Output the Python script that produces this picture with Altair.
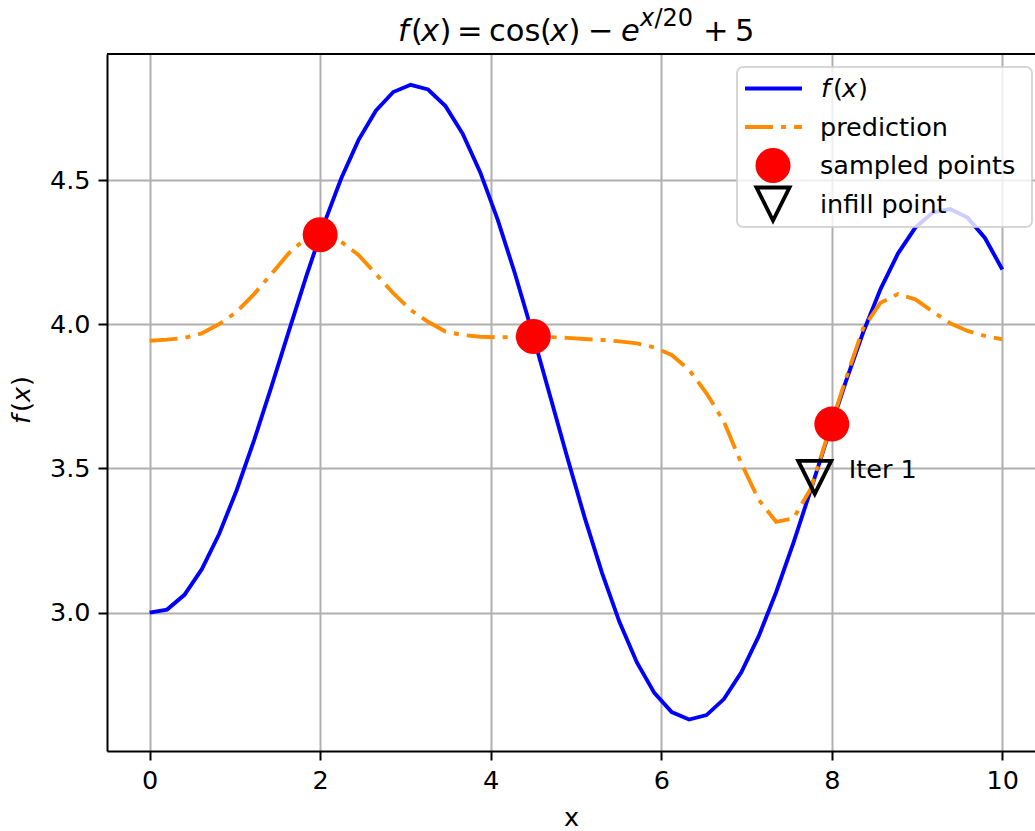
import altair as alt
import pandas as pd

FONT = "DejaVu Sans"

# sample positions shared by the true function and the surrogate prediction
x_grid = [0.0, 0.2041, 0.4082, 0.6122, 0.8163, 1.0204, 1.2245, 1.4286, 1.6327, 1.8367,
          2.0408, 2.2449, 2.449, 2.6531, 2.8571, 3.0612, 3.2653, 3.4694, 3.6735, 3.8776,
          4.0816, 4.2857, 4.4898, 4.6939, 4.898, 5.102, 5.3061, 5.5102, 5.7143, 5.9184,
          6.1224, 6.3265, 6.5306, 6.7347, 6.9388, 7.1429, 7.3469, 7.551, 7.7551, 7.9592,
          8.1633, 8.3673, 8.5714, 8.7755, 8.9796, 9.1837, 9.3878, 9.5918, 9.7959, 10.0]

f_true = [3.000, 3.0105, 3.0615, 3.1506, 3.2734, 3.4246, 3.5974, 3.7842, 3.9768, 4.1666,
          4.3455, 4.5054, 4.6393, 4.7412, 4.8062, 4.8314, 4.8150, 4.7573, 4.6602, 4.5272,
          4.3634, 4.1749, 3.9691, 3.7540, 3.5380, 3.3295, 3.1367, 2.9670, 2.8268, 2.7214,
          2.6547, 2.6289, 2.6443, 2.6998, 2.7926, 2.9181, 3.0705, 3.2429, 3.4276, 3.6162,
          3.8003, 3.9716, 4.1224, 4.2457, 4.3358, 4.3883, 4.3999, 4.3704, 4.2999, 4.1904]

f_pred = [3.943, 3.947, 3.953, 3.969, 4.001, 4.043, 4.105, 4.175, 4.247, 4.299,
          4.309, 4.287, 4.241, 4.175, 4.108, 4.050, 4.009, 3.975, 3.963, 3.957,
          3.955, 3.956, 3.957, 3.956, 3.953, 3.949, 3.946, 3.941, 3.934, 3.920,
          3.894, 3.842, 3.761, 3.662, 3.518, 3.391, 3.315, 3.327, 3.431, 3.622,
          3.810, 3.986, 4.075, 4.105, 4.087, 4.044, 4.004, 3.977, 3.960, 3.948]

sampled_x = [2.0, 4.5, 8.0]
sampled_f = [4.311, 3.958, 3.654]

infill_x = [7.8]
infill_f = [3.469]
infill_label = ["Iter 1"]

x_ticks = [0, 2, 4, 6, 8, 10]
y_ticks = [3.0, 3.5, 4.0, 4.5]

# plot-area geometry inside the 1035x831 page
LEFT, TOP = 107, 54
W, H = 928, 697
X_DOMAIN = [-0.5, 10.383]
Y_DOMAIN = [2.5197, 4.9381]

BLUE = "#0000ff"
ORANGE = "#ff8c00"
RED = "#ff0000"
DASHDOT = [28, 8, 5, 8]
LW = 3.9
TRI_DOWN = "M -1 -1 L 1 -1 L 0 1 Z"

xs = alt.Scale(domain=X_DOMAIN, nice=False, zero=False)
ys = alt.Scale(domain=Y_DOMAIN, nice=False, zero=False)

df_true = pd.DataFrame({"x": x_grid, "f": f_true})
df_pred = pd.DataFrame({"x": x_grid, "f": f_pred})
df_samp = pd.DataFrame({"x": sampled_x, "f": sampled_f})
df_inf = pd.DataFrame({"x": infill_x, "f": infill_f, "label": infill_label})

true_line = alt.Chart(df_true).mark_line(color=BLUE, strokeWidth=LW).encode(
    x=alt.X("x:Q", scale=xs,
            axis=alt.Axis(values=x_ticks, format="d", title="x", titleY=74,
                          titleBaseline="alphabetic", grid=True)),
    y=alt.Y("f:Q", scale=ys,
            axis=alt.Axis(values=y_ticks, format=".1f", title=None, grid=True)),
)

pred_line = alt.Chart(df_pred).mark_line(
    color=ORANGE, strokeWidth=LW, strokeDash=DASHDOT, strokeCap="butt"
).encode(x=alt.X("x:Q", scale=xs), y=alt.Y("f:Q", scale=ys))

samp_pts = alt.Chart(df_samp).mark_point(
    shape="circle", filled=True, color=RED, size=1225, opacity=1, strokeWidth=0
).encode(x=alt.X("x:Q", scale=xs), y=alt.Y("f:Q", scale=ys))

inf_pt = alt.Chart(df_inf).mark_point(
    shape=TRI_DOWN, filled=False, stroke="black", strokeWidth=LW, size=1089, opacity=1
).encode(x=alt.X("x:Q", scale=xs), y=alt.Y("f:Q", scale=ys))

inf_text = alt.Chart(df_inf).mark_text(
    align="left", baseline="alphabetic", dx=34, dy=1, font=FONT, fontSize=25.5, color="black"
).encode(x=alt.X("x:Q", scale=xs), y=alt.Y("f:Q", scale=ys), text="label:N")

# top spine (the right one falls outside the page)
top_spine = alt.Chart(pd.DataFrame({"k": [0]})).mark_rule(
    color="black", strokeWidth=2
).encode(x=alt.value(0), x2=alt.value(W), y=alt.value(0))


def piece(text, px, py, size, italic=False, angle=0):
    """A fragment of typeset text placed at page coordinates (px, py)."""
    return alt.Chart(pd.DataFrame({"t": [text]})).mark_text(
        align="left", baseline="alphabetic", font=FONT, fontSize=size,
        fontStyle="italic" if italic else "normal", angle=angle, color="black"
    ).encode(x=alt.value(px - LEFT), y=alt.value(py - TOP), text="t:N")


TS = 30.5   # title size
SS = 24     # superscript size
title_parts = [
    piece("f", 398, 41, TS, True),
    piece("(", 411, 41, TS),
    piece("x", 421, 41, TS, True),
    piece(")", 439.5, 41, TS),
    piece("=", 457, 41, TS),
    piece("cos", 489, 41, TS),
    piece("(", 540, 41, TS),
    piece("x", 550, 41, TS, True),
    piece(")", 568.5, 41, TS),
    piece("\u2212", 588, 41, TS),
    piece("e", 621, 41, TS, True),
    piece("x", 640, 26, SS, True),
    piece("/20", 654.5, 26, SS),
    piece("+", 703, 41, TS),
    piece("5", 735, 41, TS),
]

# y-axis label f(x), rotated, reading bottom to top
LS = 25.5
ylabel_parts = [
    piece("f", 29.5, 424, LS, True, 270),
    piece("(", 29.5, 412, LS, False, 270),
    piece("x", 29.5, 402, LS, True, 270),
    piece(")", 29.5, 386, LS, False, 270),
]

# legend box and entries
legend_box = alt.Chart(pd.DataFrame({"k": [0]})).mark_rect(
    fill="white", fillOpacity=0.8, stroke="#cccccc", strokeOpacity=0.8,
    strokeWidth=2, cornerRadius=6
).encode(x=alt.value(737 - LEFT), x2=alt.value(1032 - LEFT),
         y=alt.value(67 - TOP), y2=alt.value(227 - TOP))


def handle_line(color, y, dash=None):
    kw = dict(color=color, strokeWidth=LW, strokeCap="butt")
    if dash:
        kw["strokeDash"] = dash
    return alt.Chart(pd.DataFrame({"k": [0]})).mark_rule(**kw).encode(
        x=alt.value(745 - LEFT), x2=alt.value(802 - LEFT), y=alt.value(y - TOP))


def handle_point(y, **kw):
    return alt.Chart(pd.DataFrame({"k": [0]})).mark_point(opacity=1, **kw).encode(
        x=alt.value(773 - LEFT), y=alt.value(y - TOP))


legend_parts = [
    legend_box,
    handle_line(BLUE, 88.5),
    handle_line(ORANGE, 127, DASHDOT),
    handle_point(165.5, shape="circle", filled=True, color=RED, size=1225, strokeWidth=0),
    handle_point(204, shape=TRI_DOWN, filled=False, stroke="black", strokeWidth=LW, size=1089),
    piece("f", 821, 97, LS, True),
    piece("(", 833, 97, LS),
    piece("x", 842, 97, LS, True),
    piece(")", 858, 97, LS),
    piece("prediction", 820, 135.5, LS),
    piece("sampled points", 820, 174, LS),
    piece("infill point", 820, 212.5, LS),
]

chart = alt.layer(
    true_line, pred_line, samp_pts, inf_pt, inf_text, top_spine,
    *title_parts, *ylabel_parts, *legend_parts
).properties(
    width=W, height=H,
    padding={"left": LEFT, "top": TOP, "right": 0, "bottom": 831 - TOP - H},
    autosize=alt.AutoSizeParams(type="none"),
).configure_view(stroke=None).configure_axis(
    domainColor="black", domainWidth=2,
    tickColor="black", tickWidth=2, tickSize=9,
    labelFont=FONT, labelFontSize=LS, labelColor="black", labelPadding=8,
    labelFlush=False,
    gridColor="#b0b0b0", gridWidth=2,
    titleFont=FONT, titleFontSize=LS, titleColor="black", titleFontWeight="normal",
)

chart.save("out.html", embed_options={"renderer": "svg", "actions": False})
